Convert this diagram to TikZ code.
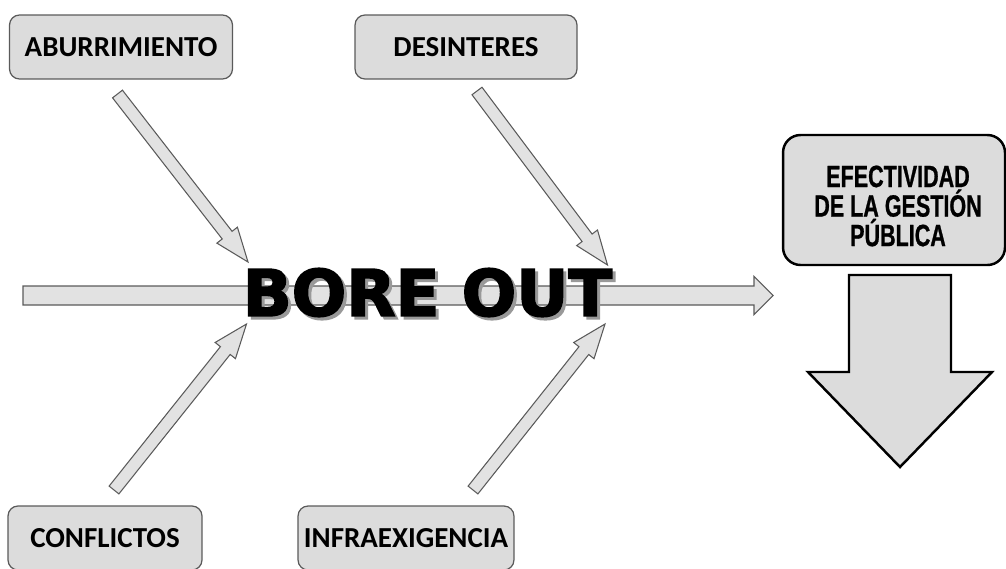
\documentclass[tikz,border=0pt]{standalone}
\usepackage{fontspec}
\setmainfont{Carlito}
\newfontfamily\narrowsans[FakeStretch=0.7, BoldFeatures={FakeBold=0.8}]{Liberation Sans}
\newfontfamily\heavysans[BoldFeatures={FakeBold=2.6}]{DejaVu Sans}
\usetikzlibrary{calc}

\definecolor{boxfill}{HTML}{DCDCDC}
\definecolor{boxline}{HTML}{5A5A5A}
\definecolor{arrowfill}{HTML}{E2E2E2}

% [style]{tail}{tip}{half shaft}{half head}{head length}
\newcommand{\blockarrow}[6][]{%
  \coordinate (hb) at ($(#3)!#6!(#2)$);
  \draw[#1] ($(#2)!#4!90:(#3)$) -- ($(hb)!#4!90:(#3)$) -- ($(hb)!#5!90:(#3)$)
    -- (#3) -- ($(hb)!#5!-90:(#3)$) -- ($(hb)!#4!-90:(#3)$)
    -- ($(#2)!#4!-90:(#3)$) -- cycle;
}
% text with a soft drop shadow
\newcommand{\shadowtext}[1]{%
  \rlap{\hspace{0.06cm}\raisebox{-0.06cm}{\color{black!40}#1}}#1}

\begin{document}
\begin{tikzpicture}[
  x=0.02cm, y=-0.02cm,
  cause/.style={draw=boxline, fill=boxfill, rounded corners=0.2cm, line width=0.7pt,
    minimum height=1.28cm, font=\fontsize{16.5}{19}\selectfont\bfseries},
  effect/.style={draw=black, fill=boxfill, rounded corners=0.35cm, line width=1.4pt,
    minimum width=4.44cm, minimum height=2.6cm},
  effectlabel/.style={align=center, inner sep=0pt,
    font=\narrowsans\fontsize{17.5}{16.8}\selectfont\bfseries},
  bone/.style={draw=boxline, fill=arrowfill, line width=0.6pt, line join=miter},
  bigarrow/.style={draw=black, fill=boxfill, line width=1.4pt, line join=miter},
  boretext/.style={inner sep=0pt, font=\heavysans\fontsize{36.5}{40}\selectfont\bfseries}
]
\useasboundingbox (0,0) rectangle (1006,568);

% causes
\node[cause, minimum width=4.46cm] (abur) at (121,47) {ABURRIMIENTO};
\node[cause, minimum width=4.44cm] (desi) at (466,47) {DESINTERES};
\node[cause, minimum width=3.88cm] (conf) at (105,538) {CONFLICTOS};
\node[cause, minimum width=3.86cm] (infra) at (406,538) {INFRAEXIGENCIA};

% effect
\node[effect] (efect) at (894,200) {};
\node[effectlabel] (efectlabel) at (898,206) {EFECTIVIDAD\\DE LA GESTIÓN\\PÚBLICA};
\draw[bigarrow] (849,275) -- (951,275) -- (951,372) -- (992,372)
  -- (900,467) -- (808,372) -- (849,372) -- cycle;

% spine
\coordinate (spinetail) at (23,295.5);
\coordinate (spinetip) at (773,295.5);
\blockarrow[bone]{spinetail}{spinetip}{0.19cm}{0.38cm}{0.38cm}

% bones
\coordinate (t1) at (117.5,94);  \coordinate (h1) at (248,262);
\coordinate (t2) at (477,91);    \coordinate (h2) at (607.5,265);
\coordinate (t3) at (114,490);   \coordinate (h3) at (246.5,324);
\coordinate (t4) at (473,490);   \coordinate (h4) at (605,324);
\blockarrow[bone]{t1}{h1}{0.125cm}{0.26cm}{0.68cm}
\blockarrow[bone]{t2}{h2}{0.125cm}{0.26cm}{0.68cm}
\blockarrow[bone]{t3}{h3}{0.125cm}{0.26cm}{0.68cm}
\blockarrow[bone]{t4}{h4}{0.125cm}{0.26cm}{0.68cm}

% problem
\node[boretext] (bore) at (427.5,294) {\shadowtext{BORE OUT}};
\end{tikzpicture}
\end{document}
